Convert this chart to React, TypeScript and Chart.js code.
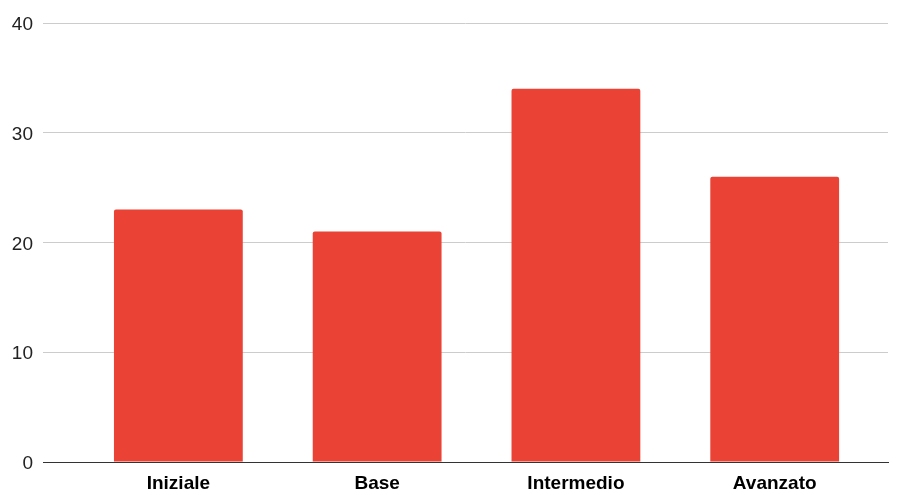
import React, { useEffect, useRef } from "react";
import { Chart, registerables } from "chart.js";

Chart.register(...registerables);

const categories = ["Iniziale", "Base", "Intermedio", "Avanzato"];
const values = [23, 21, 34, 26];
const yTicks = [0, 10, 20, 30, 40];

export default function App() {
  const ref = useRef<HTMLCanvasElement>(null);
  useEffect(() => {
    if (!ref.current) return;
    const chart = new Chart(ref.current, {
      type: "bar",
      data: {
        datasets: [
          {
            data: values.map((v, i) => ({ x: i, y: v })),
            backgroundColor: "#EA4335",
            borderRadius: 2,
            borderSkipped: "bottom",
            barPercentage: 0.648,
            categoryPercentage: 1,
          },
        ],
      },
      options: {
        animation: false,
        responsive: true,
        maintainAspectRatio: false,
        layout: { padding: { top: 23, right: 13, left: 0, bottom: 0 } },
        plugins: { legend: { display: false }, tooltip: { enabled: false } },
        scales: {
          x: {
            type: "linear",
            offset: false,
            min: -0.681,
            max: 3.57,
            afterBuildTicks: (scale: any) => {
              scale.ticks = categories.map((_, i) => ({ value: i }));
            },
            afterFit: (scale: any) => {
              scale.height = 33;
            },
            grid: { display: false, drawTicks: false, offset: false },
            border: { display: true, color: "#333333", width: 1 },
            ticks: {
              autoSkip: false,
              maxRotation: 0,
              padding: 10,
              color: "#000000",
              font: { family: "'Liberation Sans', Arial, sans-serif", size: 19, weight: "bold" },
              callback: (v: any) => categories[Math.round(Number(v))] ?? "",
            },
          },
          y: {
            min: 0,
            max: 40,
            afterBuildTicks: (scale: any) => {
              scale.ticks = yTicks.map((v) => ({ value: v }));
            },
            afterFit: (scale: any) => {
              scale.width = 43;
            },
            grid: { color: "#cccccc", drawTicks: false, lineWidth: 1 },
            border: { display: false },
            ticks: {
              padding: 10,
              labelOffset: 2,
              color: "#222222",
              font: { family: "'Liberation Sans', Arial, sans-serif", size: 19 },
            },
          },
        },
      },
    });
    return () => chart.destroy();
  }, []);
  return (
    <div style={{ position: "fixed", left: 0, top: 0, width: 901, height: 495, background: "#fff" }}>
      <canvas ref={ref} />
    </div>
  );
}
